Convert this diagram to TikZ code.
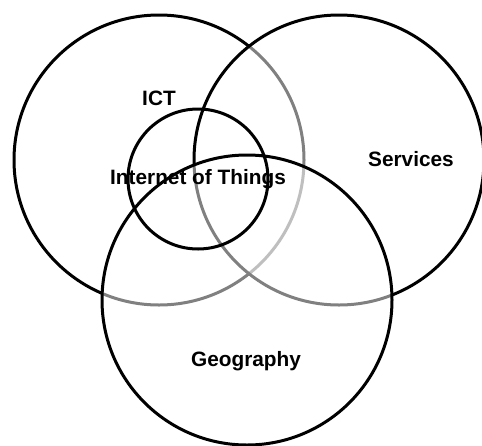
\documentclass[tikz,border=0pt]{standalone}
\usepackage{fontspec}
\setmainfont{Liberation Sans}
\usetikzlibrary{positioning}

\begin{document}
\begin{tikzpicture}[
                x=1pt, y=-1pt,
                set/.style={circle, draw, line width=3pt, fill=white, fill opacity=0.5, inner sep=0pt, minimum size=290pt},
                subset/.style={circle, draw, line width=3pt, inner sep=0pt, minimum size=140pt},
                label/.style={font=\bfseries\fontsize{20.8}{24}\selectfont, inner sep=0pt},
            ]

            % Picture frame
            \useasboundingbox (0,0) rectangle (482,445);
            \clip (0,0) rectangle (482,445);

            % The three big sets
            \node[set] (ict) at (159,160) {};
            \node[set] (services) at (339,160) {};
            \node[set] (geography) at (247,300) {};

            % Inner set
            \node[subset] (iot) at (198,179) {};

            % Labels
            \node[label] (ictlabel) at (159,98) {ICT};
            \node[label] (serviceslabel) at (411,159) {Services};
            \node[label] (geographylabel) at (246,361) {Geography};
            \node[label] (iotlabel) at (iot) {Internet of Things};

\end{tikzpicture}
\end{document}
